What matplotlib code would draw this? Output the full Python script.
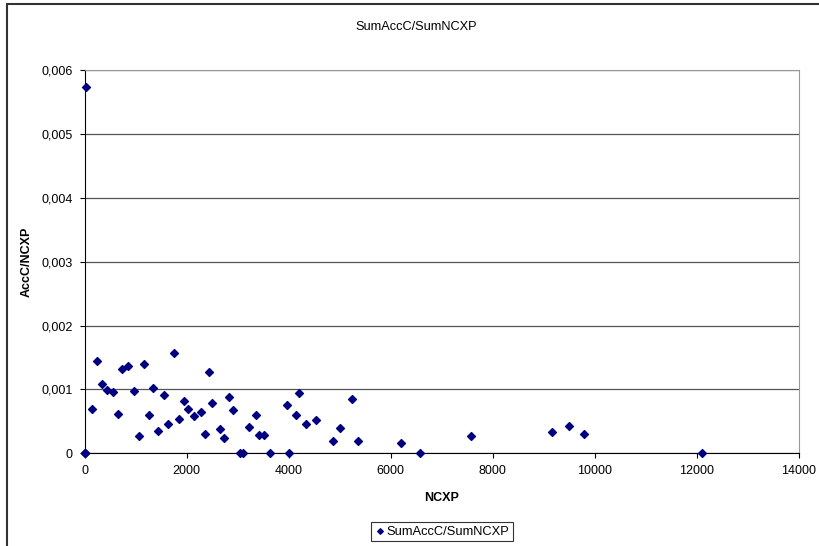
import matplotlib
matplotlib.use("Agg")
import matplotlib.pyplot as plt
from matplotlib.patches import Rectangle
from matplotlib.ticker import FuncFormatter, MultipleLocator

# values
ncxp = [0, 0, 0, 29, 153, 251, 349, 435, 552, 650, 741, 846, 964, 1062, 1160,
        1258, 1337, 1435, 1552, 1631, 1748, 1846, 1944, 2023, 2140, 2278, 2362,
        2440, 2499, 2662, 2740, 2832, 2911, 3054, 3113, 3230, 3355, 3426, 3512,
        3642, 3963, 4002, 4139, 4210, 4335, 4530, 4864, 5002, 5237, 5355, 6203,
        6582, 7581, 9169, 9496, 9796, 12103]
ratio = [0, 0, 0, 0.00573, 0.00069, 0.00145, 0.00109, 0.00099, 0.00096, 0.00061,
         0.00132, 0.00136, 0.00098, 0.00027, 0.00140, 0.00060, 0.00102, 0.00035,
         0.00092, 0.00046, 0.00157, 0.00053, 0.00082, 0.00069, 0.00058, 0.00064,
         0.00030, 0.00128, 0.00078, 0.00038, 0.00024, 0.00088, 0.00067, 0, 0,
         0.00041, 0.00060, 0.00028, 0.00028, 0, 0.00076, 0, 0.00060, 0.00094,
         0.00046, 0.00052, 0.00020, 0.00040, 0.00085, 0.00019, 0.00016, 0,
         0.00027, 0.00033, 0.00043, 0.00030, 0]

plt.rcParams['font.family'] = ['Liberation Sans', 'DejaVu Sans']

W, H = 819, 546
fig = plt.figure(figsize=(W / 100, H / 100), dpi=100)

# outer chart-area border (runs off right/bottom edge like the original)
fig.patches.append(Rectangle((7 / W, -0.1), 1.2, 1 - 4 / H + 0.1,
                             transform=fig.transFigure, fill=False,
                             edgecolor='#333333', linewidth=1.5))

left, right, top, bottom = 84.5, 799, 70, 453.3
ax = fig.add_axes([left / W, 1 - bottom / H, (right - left) / W, (bottom - top) / H])

ax.scatter(ncxp, ratio, marker='D', s=16, color='#000080', zorder=3,
           label='SumAccC/SumNCXP', clip_on=False)

ax.set_xlim(0, 14000)
ax.set_ylim(0, 0.006)
ax.xaxis.set_major_locator(MultipleLocator(2000))
ax.yaxis.set_major_locator(MultipleLocator(0.001))
ax.yaxis.set_major_formatter(FuncFormatter(
    lambda v, p: '0' if abs(v) < 1e-9 else f'{v:.3f}'.replace('.', ',')))

ax.grid(axis='y', color='#555555', linewidth=0.9)
ax.set_axisbelow(True)
for s in ['top', 'right']:
    ax.spines[s].set_color('#999999')
ax.spines['left'].set_color('black')
ax.spines['bottom'].set_color('black')
ax.tick_params(labelsize=9, length=3.6, width=0.8, direction='out', pad=4.8)

# title is centred on the (cropped) chart area, not the plot area
fig.text(416 / W, 1 - 27 / H, 'SumAccC/SumNCXP', fontsize=9.2,
         ha='center', va='center')
ax.set_xlabel('NCXP', fontsize=9, fontweight='bold', labelpad=11)
ax.set_ylabel('AccC/NCXP', fontsize=9, fontweight='bold', labelpad=6.5)

leg = ax.legend(loc='center', bbox_to_anchor=(0.5, -0.204), fontsize=9.3,
                frameon=True, fancybox=False, edgecolor='black',
                handletextpad=0.1, borderpad=0.3, handlelength=0.8,
                scatterpoints=1, markerscale=0.7)
leg.get_frame().set_linewidth(0.8)

fig.savefig('out.png', dpi=100)
